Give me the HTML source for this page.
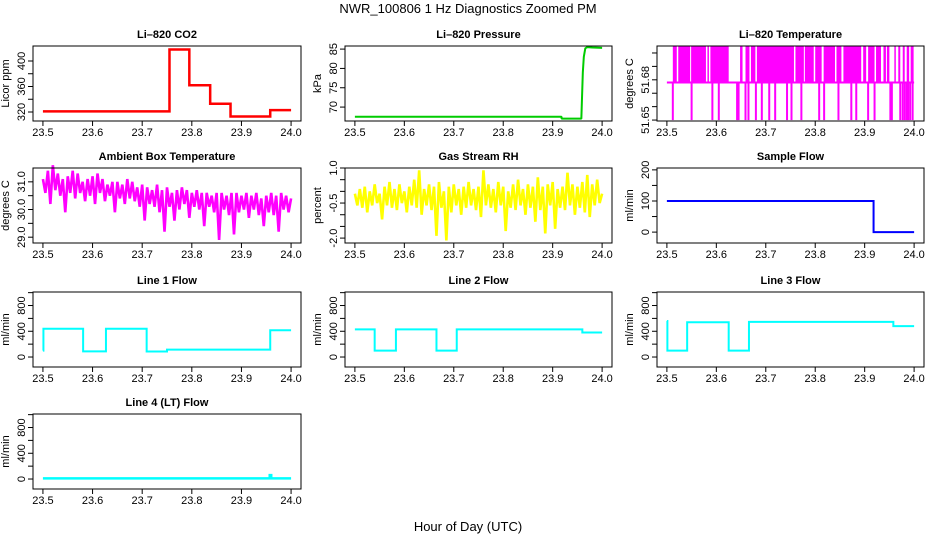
<!DOCTYPE html>
<html><head><meta charset="utf-8"><style>
html,body{margin:0;padding:0;background:#fff;}
svg{display:block;font-family:"Liberation Sans",sans-serif;}
</style></head><body>
<svg id="chart" width="936" height="540" viewBox="0 0 936 540" xmlns="http://www.w3.org/2000/svg">
<text x="468" y="13" text-anchor="middle" font-size="13">NWR_100806  1 Hz Diagnostics Zoomed PM</text>
<text x="468" y="531" text-anchor="middle" font-size="13">Hour of Day (UTC)</text>
</svg>
<script>
// ---- data ----
const co2Times=[23.5,23.755,23.795,23.837,23.878,23.958,24.0];
const co2Values=[321,418,362,333,313,323];
const presTimes=[23.5,23.918,23.9181,23.958,23.959,23.961,23.963,23.966,23.97,23.98,24.0];
const presValues=[67.5,67.5,67.0,67.0,71,79,83,85.2,85.5,85.4,85.3];
const tempBase=51.678, tempHigh=51.705, tempLow=51.650;
const tempUpStart=[23.512,23.523,23.549,23.582,23.588,23.648,23.659,23.670,23.682,23.760,23.779,23.800,23.817,23.843,23.857,23.897,23.907,23.923,23.938,23.945,23.960,23.968,23.977,23.985,23.993];
const tempUpEnd=[23.520,23.547,23.579,23.585,23.625,23.653,23.667,23.679,23.757,23.777,23.797,23.813,23.840,23.853,23.893,23.903,23.920,23.933,23.943,23.950,23.963,23.972,23.981,23.990,23.999];
const tempDownTimes=[23.512,23.550,23.592,23.605,23.642,23.645,23.659,23.665,23.680,23.692,23.707,23.719,23.743,23.752,23.772,23.808,23.818,23.847,23.873,23.883,23.907,23.920,23.952,23.955,23.972,23.977,23.981,23.985,23.988,23.992,23.997];
const ambientValues=[31.1,30.6,31.4,30.2,31.6,30.7,31.3,30.5,31.1,29.9,31.2,30.6,31.4,30.4,31.3,30.6,31.0,30.3,31.1,30.5,31.2,30.2,31.3,30.6,31.1,30.3,30.9,30.5,31.0,29.9,31.0,30.4,30.9,30.2,31.1,30.4,31.0,30.3,30.8,30.1,30.9,29.6,30.8,30.2,30.7,30.1,30.9,29.9,30.7,29.2,30.8,30.1,30.6,29.6,30.7,30.0,30.8,30.2,30.7,29.7,30.6,30.1,30.7,30.0,30.6,29.4,30.6,30.1,30.5,29.9,30.6,28.9,30.6,30.0,30.5,29.8,30.6,29.1,30.6,29.9,30.5,30.0,30.6,29.7,30.5,30.0,30.6,29.8,30.4,29.4,30.5,29.9,30.6,29.8,30.5,29.2,30.6,30.0,30.5,29.9,30.4];
const rhValues=[-0.1,-0.6,0.1,-0.7,0.2,-0.9,0.0,-0.6,0.3,-0.5,-0.1,-1.2,0.2,-0.6,0.4,-0.7,0.1,-0.8,0.3,-0.5,0.0,-0.9,0.2,-0.6,0.5,-0.7,0.9,-1.0,0.1,-0.6,0.3,-0.8,0.2,-1.9,0.4,-0.7,0.0,-2.1,0.2,-0.9,0.3,-0.6,0.1,-1.0,0.2,-0.7,0.4,-0.6,0.1,-0.8,0.2,-1.1,0.9,-0.6,0.3,-0.7,0.1,-0.9,0.4,-0.6,0.2,-1.7,0.0,-0.7,0.3,-0.8,0.5,-0.6,0.1,-1.0,0.3,-0.7,0.2,-1.3,0.6,-0.8,0.2,-1.8,0.3,-0.6,0.4,-1.6,0.1,-0.7,0.2,-0.8,0.8,-0.6,0.3,-1.0,0.2,-0.7,0.4,-0.9,0.7,-1.1,0.3,-0.6,0.5,-0.5,-0.1];
const sampleTimes=[23.5,23.918,24.0];
const sampleValues=[100,0];
const line1Times=[23.5,23.501,23.581,23.627,23.709,23.75,23.958,24.0];
const line1Values=[100,440,88,440,85,114,415];
const line2Times=[23.5,23.54,23.583,23.665,23.706,23.96,24.0];
const line2Values=[430,100,430,100,430,380];
const line3Times=[23.5,23.501,23.541,23.625,23.666,23.958,24.0];
const line3Values=[560,100,540,100,545,480];
const line4Times=[23.5,23.957,23.96,24.0];
const line4Values=[10,60,10];
const xTicks=[23.5,23.6,23.7,23.8,23.9,24.0];
const xTickLabels=["23.5","23.6","23.7","23.8","23.9","24.0"];

// ---- layout ----
const NS="http://www.w3.org/2000/svg";
const svg=document.getElementById('chart');
const cols=[[33,301],[345,612],[657,924]];
const rows=[46,168,292,414];
const H=75;
const XD=[23.48,24.02];
function mk(tag,attrs,parent){const e=document.createElementNS(NS,tag);for(const k in attrs)e.setAttribute(k,attrs[k]);(parent||svg).appendChild(e);return e;}

function panel(col,row,title,ylab,yd,ticks,labels,name){
  const g=mk('g',{});
  
  
  const x0=cols[col][0],x1=cols[col][1],y0=rows[row],y1=y0+H;
  const xs=v=>x0+(v-XD[0])/(XD[1]-XD[0])*(x1-x0);
  const ys=v=>y1-(v-yd[0])/(yd[1]-yd[0])*(y1-y0);
  const t=mk('text',{x:(x0+x1)/2,y:y0-8,'text-anchor':'middle','font-size':11,'font-weight':'bold'},g);
  t.textContent=title;
  
  
  const yl=mk('text',{x:0,y:0,'text-anchor':'middle','font-size':11,transform:`translate(${x0-24},${(y0+y1)/2}) rotate(-90)`},g);
  yl.textContent=ylab;
  
  
  xTicks.forEach((v,i)=>{
    const tk=mk('line',{x1:xs(v),x2:xs(v),y1:y1,y2:y1+5,stroke:'#000'},g);
    
    
    const tl=mk('text',{x:xs(v),y:y1+15,'text-anchor':'middle','font-size':11},g);
    tl.textContent=xTickLabels[i];
    
    
  });
  ticks.forEach((v,i)=>{
    const tk=mk('line',{x1:x0-5,x2:x0,y1:ys(v),y2:ys(v),stroke:'#000'},g);
    
    
    if(labels[i]){
      const tl=mk('text',{x:0,y:0,'text-anchor':'middle','font-size':11,transform:`translate(${x0-8},${ys(v)}) rotate(-90)`},g);
      tl.textContent=labels[i];
      
      
    }
  });
  const data=mk('g',{},g);
  
  
  const box=mk('rect',{x:x0,y:y0,width:x1-x0,height:H,fill:'none',stroke:'#000','stroke-width':1},g);
  
  
  return {xs,ys,data};
}
function stepPath(p,T,V,color,w,name){
  let d=`M${p.xs(T[0])},${p.ys(V[0])}`;
  for(let i=0;i<V.length;i++){d+=` V${p.ys(V[i])} H${p.xs(T[i+1])}`;}
  const e=mk('path',{d,fill:'none',stroke:color,'stroke-width':w},p.data);
  
  
}
function linePath(p,T,V,color,w,name){
  const d=V.map((v,i)=>(i?'L':'M')+p.xs(T[i])+','+p.ys(v)).join(' ');
  const e=mk('path',{d,fill:'none',stroke:color,'stroke-width':w,'stroke-linejoin':'bevel'},p.data);
  
  
}
function noisePath(p,V,color,w,name){
  const T=V.map((v,i)=>23.5+i*0.5/(V.length-1));
  linePath(p,T,V,color,w,name);
}

// Row 1
let p=panel(0,0,'Li\u2013820 CO2','Licor ppm',[305.9,423.5],[320,340,360,380,400],['320','','360','','400'],'co2');
stepPath(p,co2Times,co2Values,'#ff0000',2.5,'co2-line');
p=panel(1,0,'Li\u2013820 Pressure','kPa',[66.4,85.8],[70,75,80,85],['70','75','80','85'],'pressure');
linePath(p,presTimes,presValues,'#00cc00',2,'pressure-line');
p=panel(2,0,'Li\u2013820 Temperature','degrees C',[51.6493,51.7052],[51.65,51.66,51.67,51.68,51.69,51.70],['51.65','','','51.68','',''],'li820-temp');
(function(){
  const b=mk('line',{x1:p.xs(23.5),x2:p.xs(24.0),y1:p.ys(tempBase),y2:p.ys(tempBase),stroke:'#ff00ff','stroke-width':2},p.data);
  
  
  tempUpStart.forEach((s,i)=>{
    const r=mk('rect',{x:p.xs(s),y:p.ys(tempHigh),width:Math.max(1.5,p.xs(tempUpEnd[i])-p.xs(s)),height:p.ys(tempBase)-p.ys(tempHigh),fill:'#ff00ff'},p.data);
    
    
  });
  tempDownTimes.forEach(t=>{
    const l=mk('line',{x1:p.xs(t),x2:p.xs(t),y1:p.ys(tempBase),y2:p.ys(tempLow),stroke:'#ff00ff','stroke-width':2},p.data);
    
    
  });
})();
// Row 2
p=panel(0,1,'Ambient Box Temperature','degrees C',[28.79,31.5],[29,29.5,30,30.5,31],['29.0','','30.0','','31.0'],'ambient');
noisePath(p,ambientValues,'#ff00ff',2.6,'ambient-line');
p=panel(1,1,'Gas Stream RH','percent',[-2.21,1.0],[1.0,0.5,0,-0.5,-1.0,-1.5,-2.0],['1.0','','','-0.5','','','-2.0'],'rh');
noisePath(p,rhValues,'#ffff00',2.6,'rh-line');
p=panel(2,1,'Sample Flow','ml/min',[-35,206],[0,50,100,150,200],['0','','100','','200'],'sample-flow');
stepPath(p,sampleTimes,sampleValues,'#0000ff',2,'sample-flow-line');
// Row 3
const fd=[-155,1010],ft=[0,200,400,600,800,1000],fl=['0','','400','','800',''];
p=panel(0,2,'Line 1 Flow','ml/min',fd,ft,fl,'line1-flow');
stepPath(p,line1Times,line1Values,'#00ffff',2,'line1-flow-line');
p=panel(1,2,'Line 2 Flow','ml/min',fd,ft,fl,'line2-flow');
stepPath(p,line2Times,line2Values,'#00ffff',2,'line2-flow-line');
p=panel(2,2,'Line 3 Flow','ml/min',fd,ft,fl,'line3-flow');
stepPath(p,line3Times,line3Values,'#00ffff',2,'line3-flow-line');
// Row 4
p=panel(0,3,'Line 4 (LT) Flow','ml/min',fd,ft,fl,'line4-flow');
stepPath(p,line4Times,line4Values,'#00ffff',2.5,'line4-flow-line');
</script>
</body></html>
